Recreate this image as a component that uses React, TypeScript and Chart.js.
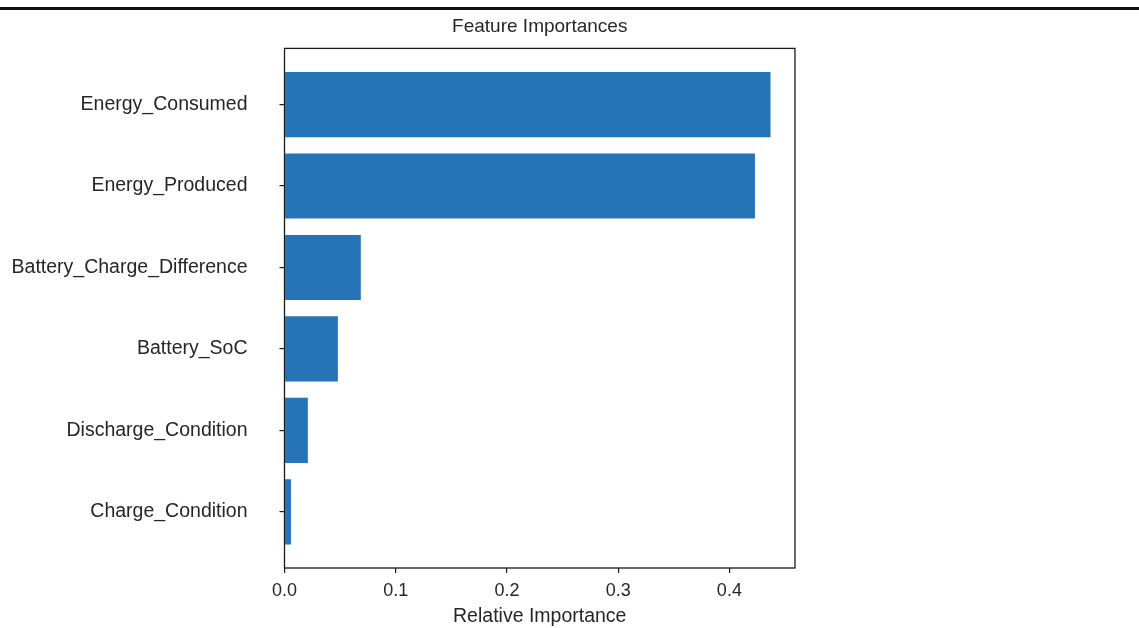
import React, { useEffect, useRef } from "react";
import { Chart, registerables } from "chart.js";

Chart.register(...registerables);

// Data (top to bottom)
const categories: string[] = [
  "Energy_Consumed",
  "Energy_Produced",
  "Battery_Charge_Difference",
  "Battery_SoC",
  "Discharge_Condition",
  "Charge_Condition",
];
const importances: number[] = [0.437, 0.423, 0.0686, 0.048, 0.021, 0.0058];
const xTicks: number[] = [0, 0.1, 0.2, 0.3, 0.4];

const FONT = "'Liberation Sans', Arial, Helvetica, sans-serif";
const TEXT = "#262626";
const AXIS = "#1a1a1a";

const frame = {
  id: "frame",
  afterDraw(chart: any) {
    const { ctx, chartArea } = chart;
    ctx.save();
    ctx.strokeStyle = AXIS;
    ctx.lineWidth = 1.3;
    ctx.strokeRect(chartArea.left, chartArea.top, chartArea.right - chartArea.left, chartArea.bottom - chartArea.top);
    ctx.restore();
  },
};

export default function App() {
  const ref = useRef<HTMLCanvasElement | null>(null);

  useEffect(() => {
    if (!ref.current) return;
    const chart = new Chart(ref.current, {
      type: "bar",
      data: {
        datasets: [
          {
            label: "Importance",
            data: importances.map((v, i) => ({ x: v, y: i })),
            backgroundColor: "#2574b7",
            borderWidth: 0,
            barPercentage: 0.8,
            categoryPercentage: 1,
          },
        ],
      },
      plugins: [frame],
      options: {
        indexAxis: "y",
        responsive: false,
        animation: false,
        layout: { padding: { left: 0, right: 344, top: 0, bottom: 0 } },
        plugins: {
          legend: { display: false },
          tooltip: { enabled: false },
          title: {
            display: true,
            text: "Feature Importances",
            fullSize: false,
            color: TEXT,
            font: { family: FONT, size: 19, weight: "normal" },
            padding: { top: 15, bottom: 10.6 },
          },
        },
        scales: {
          x: {
            type: "linear",
            min: 0,
            max: 0.459,
            offset: false,
            afterFit(scale: any) {
              scale.height = 60;
            },
            afterBuildTicks(scale: any) {
              scale.ticks = xTicks.map((v) => ({ value: v }));
            },
            ticks: {
              includeBounds: false,
              color: TEXT,
              padding: 7,
              font: { family: FONT, size: 18 },
              callback: (v: any) => Number(v).toFixed(1),
            },
            grid: {
              display: true,
              offset: false,
              drawOnChartArea: false,
              drawTicks: true,
              tickLength: 5,
              color: AXIS,
              lineWidth: 1.2,
            },
            border: { display: false },
            title: {
              display: true,
              text: "Relative Importance",
              color: TEXT,
              font: { family: FONT, size: 19.5 },
              padding: { top: 0, bottom: 0 },
            },
          },
          y: {
            type: "linear",
            reverse: true,
            min: -0.69,
            max: 5.69,
            offset: false,
            afterFit(scale: any) {
              scale.width = 284.5;
            },
            afterBuildTicks(scale: any) {
              scale.ticks = categories.map((_, i) => ({ value: i }));
            },
            ticks: {
              color: TEXT,
              padding: 32,
              font: { family: FONT, size: 19.5 },
              callback: (v: any) => categories[Number(v)] ?? "",
            },
            grid: {
              display: true,
              offset: false,
              drawOnChartArea: false,
              drawTicks: true,
              tickLength: 5,
              color: AXIS,
              lineWidth: 1.2,
            },
            border: { display: false },
          },
        },
      },
    } as any);
    return () => chart.destroy();
  }, []);

  return (
    <div style={{ position: "absolute", left: 0, top: 0, width: 1139, height: 628, background: "#fff" }}>
      <canvas ref={ref} width={1139} height={628} style={{ display: "block" }} />
      <div style={{ position: "absolute", left: 0, top: 7, width: 1139, height: 2.5, background: "#111" }} />
    </div>
  );
}
